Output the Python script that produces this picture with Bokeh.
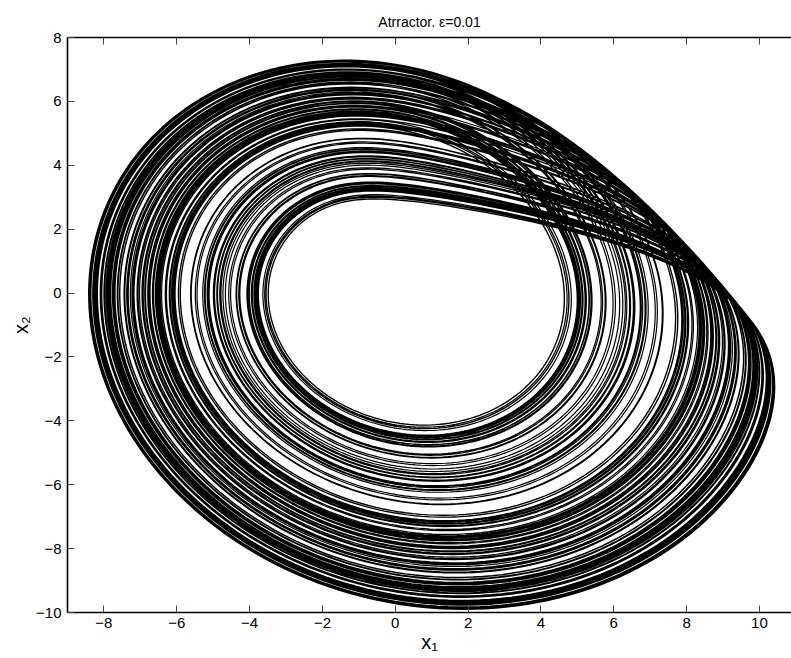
import numpy as np
from bokeh.plotting import figure
from bokeh.models import LinearAxis, FixedTicker, Range1d
from bokeh.embed import file_html
from bokeh.resources import INLINE

# System parameters (Rossler-type attractor) and integration settings
A_PAR = 0.19
B_PAR = 0.3
C_PAR = 5.7
DT = 0.01
T_TRANSIENT = 100.0
T_RECORD = 1000.0
X0 = [1.0, 1.0, 0.0]

x_ticks = [-8, -6, -4, -2, 0, 2, 4, 6, 8, 10]
y_ticks = [-10, -8, -6, -4, -2, 0, 2, 4, 6, 8]
title_text = "Atrractor. \u03b5=0.01"
x_label = "x\u2081"
y_label = "x\u2082"


def deriv(x, y, z):
    return (-y - z, x + A_PAR * y, B_PAR + z * (x - C_PAR))


def integrate():
    x, y, z = X0
    n_tr = int(T_TRANSIENT / DT)
    n_rec = int(T_RECORD / DT)
    xs = np.empty(n_rec)
    ys = np.empty(n_rec)
    h = DT
    for i in range(n_tr + n_rec):
        k1 = deriv(x, y, z)
        k2 = deriv(x + h / 2 * k1[0], y + h / 2 * k1[1], z + h / 2 * k1[2])
        k3 = deriv(x + h / 2 * k2[0], y + h / 2 * k2[1], z + h / 2 * k2[2])
        k4 = deriv(x + h * k3[0], y + h * k3[1], z + h * k3[2])
        x = x + h / 6 * (k1[0] + 2 * k2[0] + 2 * k3[0] + k4[0])
        y = y + h / 6 * (k1[1] + 2 * k2[1] + 2 * k3[1] + k4[1])
        z = z + h / 6 * (k1[2] + 2 * k2[2] + 2 * k3[2] + k4[2])
        if i >= n_tr:
            xs[i - n_tr] = x
            ys[i - n_tr] = y
    return xs[::3], ys[::3]


x1, x2 = integrate()

FONT = "Liberation Sans"

p = figure(width=791, height=658, output_backend="svg", toolbar_location=None,
           x_range=Range1d(-9, 10.88), y_range=Range1d(-10, 8),
           min_border_left=67, min_border_right=0, min_border_top=37, min_border_bottom=46,
           x_axis_location=None, y_axis_location=None, title=title_text)
p.title.align = "center"
p.title.text_font = FONT
p.title.text_font_size = "14px"
p.title.text_font_style = "normal"
p.title.text_color = "black"
p.title.standoff = 16
p.grid.visible = False
p.outline_line_color = None
p.background_fill_color = "white"
p.border_fill_color = "white"

p.line(x1, x2, line_color="black", line_width=1.2)


def style_axis(ax, ticks):
    ax.ticker = FixedTicker(ticks=ticks)
    ax.axis_line_color = "black"
    ax.axis_line_width = 1.6
    ax.major_tick_in = 7
    ax.major_tick_out = 0
    ax.minor_tick_line_color = None
    ax.major_tick_line_color = "#444444"
    ax.major_tick_line_width = 1
    ax.major_label_text_font = FONT
    ax.major_label_text_font_size = "15px"
    ax.major_label_text_color = "black"
    ax.axis_label_text_font = FONT
    ax.axis_label_text_font_style = "normal"
    ax.axis_label_text_color = "black"
    ax.axis_label_text_font_size = "20px"
    ax.major_label_overrides = {t: str(t).replace("-", "\u2212") for t in ticks}


xb = LinearAxis(axis_label=x_label)
style_axis(xb, x_ticks)
xb.major_label_standoff = 5
xb.axis_label_standoff = 0
p.add_layout(xb, "below")

yl = LinearAxis(axis_label=y_label)
style_axis(yl, y_ticks)
yl.major_label_standoff = 6
yl.axis_label_standoff = 1
p.add_layout(yl, "left")

xt = LinearAxis()
style_axis(xt, x_ticks)
xt.major_label_standoff = 0
xt.major_label_overrides = {t: "" for t in x_ticks}
p.add_layout(xt, "above")

open("out.html", "w").write(file_html(p, INLINE))
